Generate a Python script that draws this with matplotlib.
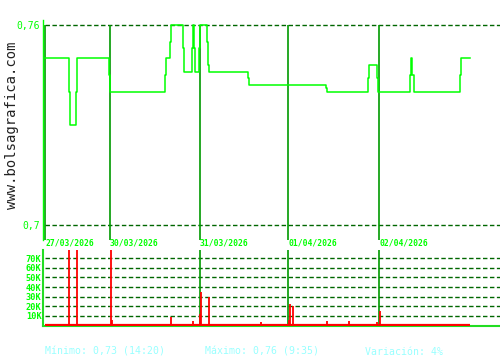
import matplotlib
matplotlib.use("Agg")
import matplotlib.pyplot as plt

# ---- data (time index in minutes-like units from session start) ----
day_labels = ['27/03/2026', '30/03/2026', '31/03/2026', '01/04/2026', '02/04/2026']
day_start = [0, 65, 155, 243.3, 334.3]
session_end = 425

price_t = [0, 23.7, 24.7, 31.3, 32.3, 64.3, 65.3, 120.3, 121.3, 125.3, 126.3,
           138.3, 139.3, 147, 148, 149.3, 150.3, 153.7, 154.7, 162.3, 163.3,
           164.3, 203.3, 204.3, 281.3, 282.3, 323.3, 324.3, 331.7, 332.7,
           364.7, 365.7, 367.3, 368.7, 414.7, 415.7, 425]
price_v = [0.75, 0.74, 0.73, 0.74, 0.75, 0.745, 0.74, 0.745, 0.75, 0.755, 0.76,
           0.753, 0.746, 0.753, 0.76, 0.753, 0.746, 0.753, 0.76, 0.755, 0.748,
           0.746, 0.744, 0.742, 0.741, 0.74, 0.744, 0.748, 0.744, 0.74,
           0.745, 0.75, 0.745, 0.74, 0.745, 0.75, 0.75]

vol_t = [24.3, 32.3, 65.7, 67.3, 121.3, 125.7, 127.3, 139.3, 148.3, 150.3,
         155.3, 156.3, 163.5, 204.3, 215.5, 243.7, 244.5, 248.3, 282.3, 295.3,
         304.3, 332.3, 335]
vol_v = [120000, 120000, 120000, 5500, 1300, 9000, 1300, 1300, 4500, 1000,
         11500, 34500, 29500, 1200, 3500, 6000, 22000, 20000, 4500, 1500,
         4500, 3000, 15000]

price_ticks = [0.70, 0.76]
price_tick_labels = ['0,7', '0,76']
vol_ticks = [10000, 20000, 30000, 40000, 50000, 60000, 70000]
vol_tick_labels = ['10K', '20K', '30K', '40K', '50K', '60K', '70K']

summary = ['Mínimo: 0,73 (14:20)', 'Máximo: 0,76 (9:35)', 'Variación: 4%']

# ---- style ----
LIME = '#00ff00'
SPINE = '#22dd22'
DAY = '#009900'
GRID = '#006600'
RED = '#ff0000'
CYAN = '#99ffff'
MONO = 'DejaVu Sans Mono'
dash = (0, (3.2, 1.8))

fig = plt.figure(figsize=(5, 3.6), dpi=100)
fig.patch.set_facecolor('white')

xlim = (-2, 455)

# price axes
ax = fig.add_axes([43 / 500, 120 / 360, 457 / 500, 220 / 360])
ax.set_xlim(*xlim)
ax.set_ylim(0.6955, 0.7615)
for s in ['top', 'right', 'bottom']:
    ax.spines[s].set_visible(False)
ax.spines['left'].set_color(LIME)
ax.spines['left'].set_linewidth(1.0)
ax.set_xticks([])
ax.set_yticks(price_ticks)
ax.set_yticklabels(price_tick_labels, color=LIME, fontsize=7, family=MONO)
ax.tick_params(axis='y', length=0, pad=2)

ax.hlines(price_ticks, 0, xlim[1], colors=GRID, linestyles=dash, lw=1.0)
ax.vlines(day_start, 0.6955, 0.76, colors=DAY, lw=1.2, zorder=2)
ax.step(price_t, price_v, where='post', color=LIME, lw=1.1, zorder=3)

# date labels
for d, lab in zip(day_start, day_labels):
    ax.text(d, -0.0115, lab, transform=ax.get_xaxis_transform(),
            color=LIME, fontsize=5.8, family=MONO, fontweight='bold',
            ha='left', va='center')

# volume axes
av = fig.add_axes([43 / 500, 34 / 360, 457 / 500, 76 / 360])
av.set_xlim(*xlim)
av.set_ylim(-730, 78700)
for s in ['top', 'right']:
    av.spines[s].set_visible(False)
for s in ['left', 'bottom']:
    av.spines[s].set_color(SPINE)
    av.spines[s].set_linewidth(1.5)
av.set_xticks([])
av.set_yticks(vol_ticks)
av.set_yticklabels(vol_tick_labels, color=LIME, fontsize=6.2, family=MONO,
                   fontweight='bold')
av.tick_params(axis='y', length=0, pad=1)

av.hlines(vol_ticks, 0, xlim[1], colors=GRID, linestyles=dash, lw=1.0)
av.vlines(day_start[2:], -730, 78700, colors=DAY, lw=1.2, zorder=2)
av.vlines(vol_t, 0, vol_v, colors=RED, lw=1.3, zorder=3)
av.hlines(0, 0, session_end, colors=RED, lw=1.6, zorder=3)

# watermark
fig.text(12 / 500, 1 - 125 / 360, 'www.bolsagrafica.com', rotation=90,
         fontsize=10, family=MONO, color='#222222', ha='center', va='center')

# summary line
for xp, s in zip([45, 205, 365], summary):
    fig.text(xp / 500, 1 - 352 / 360, s, fontsize=7.1, family=MONO,
             color=CYAN, ha='left', va='center')

fig.savefig('out.png', dpi=100)
